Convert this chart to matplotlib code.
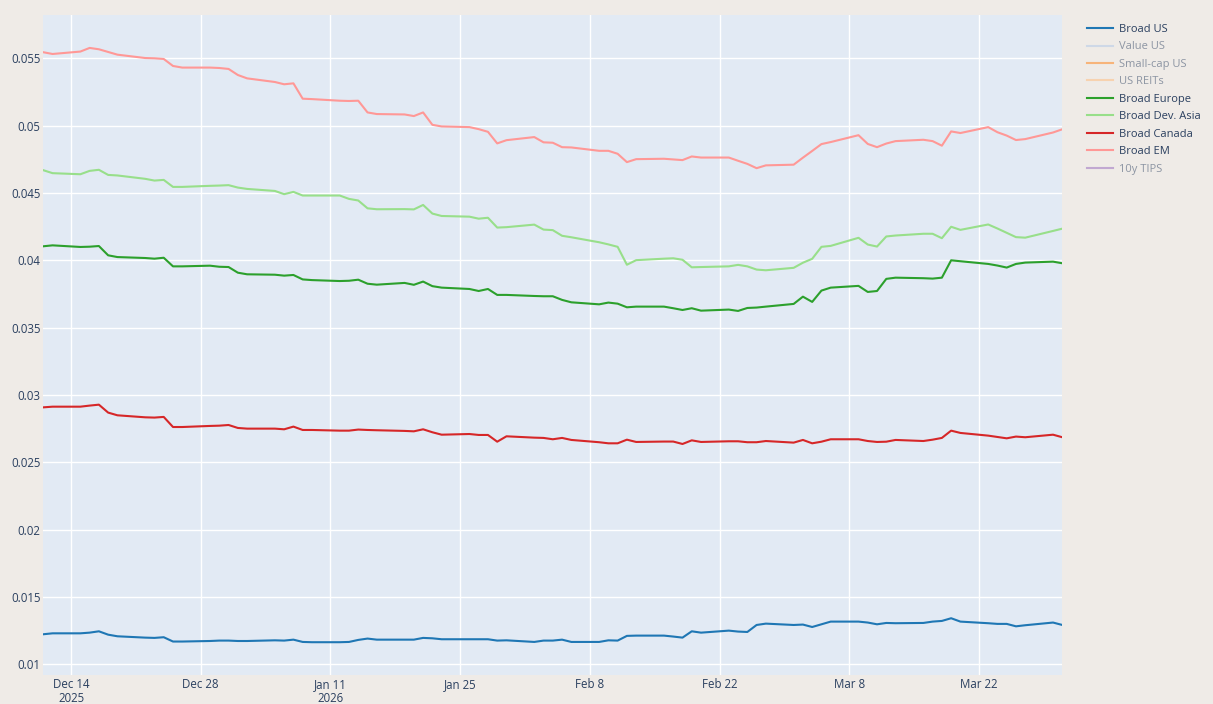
import numpy as np
import pandas as pd
import matplotlib
matplotlib.use("Agg")
import matplotlib.pyplot as plt
import matplotlib.dates as mdates
from matplotlib.lines import Line2D
from matplotlib.ticker import MultipleLocator, FuncFormatter

# business days, Dec 11 2025 .. Mar 31 2026 (79 points)
dates = pd.bdate_range("2025-12-11", "2026-03-31")

broad_us = [
    0.01223, 0.01230, 0.01230, 0.01235, 0.01245, 0.01220, 0.01208,
    0.01198, 0.01196, 0.01201, 0.01169, 0.01169, 0.01173, 0.01176,
    0.01176, 0.01173, 0.01173, 0.01178, 0.01176, 0.01183, 0.01166,
    0.01164, 0.01164, 0.01166, 0.01181, 0.01191, 0.01183, 0.01183,
    0.01183, 0.01196, 0.01193, 0.01186, 0.01186, 0.01186, 0.01186,
    0.01176, 0.01178, 0.01166, 0.01176, 0.01176, 0.01183, 0.01166,
    0.01166, 0.01178, 0.01176, 0.01211, 0.01213, 0.01213, 0.01206,
    0.01198, 0.01245, 0.01235, 0.01250, 0.01243, 0.01240, 0.01292,
    0.01302, 0.01292, 0.01295, 0.01277, 0.01297, 0.01317, 0.01317,
    0.01310, 0.01297, 0.01307, 0.01305, 0.01307, 0.01317, 0.01322,
    0.01342, 0.01317, 0.01305, 0.01300, 0.01300, 0.01282, 0.01290,
    0.01310, 0.01292,
]

broad_europe = [
    0.04104, 0.04111, 0.04099, 0.04101, 0.04106, 0.04037, 0.04024,
    0.04017, 0.04012, 0.04019, 0.03955, 0.03955, 0.03960, 0.03952,
    0.03950, 0.03908, 0.03896, 0.03893, 0.03886, 0.03891, 0.03858,
    0.03853, 0.03846, 0.03848, 0.03856, 0.03826, 0.03819, 0.03832,
    0.03818, 0.03842, 0.03808, 0.03797, 0.03787, 0.03772, 0.03787,
    0.03743, 0.03743, 0.03735, 0.03733, 0.03733, 0.03706, 0.03688,
    0.03673, 0.03686, 0.03678, 0.03651, 0.03656, 0.03656, 0.03644,
    0.03631, 0.03644, 0.03626, 0.03634, 0.03624, 0.03646, 0.03649,
    0.03656, 0.03676, 0.03730, 0.03691, 0.03775, 0.03797, 0.03810,
    0.03765, 0.03772, 0.03862, 0.03871, 0.03867, 0.03864, 0.03871,
    0.04000, 0.03993, 0.03973, 0.03961, 0.03946, 0.03973, 0.03983,
    0.03990, 0.03978,
]

broad_asia = [
    0.04669, 0.04647, 0.04639, 0.04664, 0.04672, 0.04634, 0.04630,
    0.04605, 0.04592, 0.04597, 0.04545, 0.04545, 0.04553, 0.04555,
    0.04558, 0.04540, 0.04530, 0.04515, 0.04491, 0.04508, 0.04481,
    0.04481, 0.04481, 0.04456, 0.04444, 0.04386, 0.04379, 0.04380,
    0.04378, 0.04411, 0.04347, 0.04329, 0.04324, 0.04309, 0.04316,
    0.04243, 0.04246, 0.04265, 0.04228, 0.04224, 0.04182, 0.04171,
    0.04134, 0.04118, 0.04100, 0.03967, 0.04001, 0.04012, 0.04015,
    0.04004, 0.03948, 0.03950, 0.03955, 0.03966, 0.03955, 0.03931,
    0.03926, 0.03944, 0.03982, 0.04011, 0.04100, 0.04107, 0.04167,
    0.04117, 0.04102, 0.04177, 0.04184, 0.04197, 0.04197, 0.04164,
    0.04249, 0.04226, 0.04266, 0.04236, 0.04204, 0.04172, 0.04168,
    0.04218, 0.04235,
]

broad_canada = [
    0.02908, 0.02913, 0.02913, 0.02921, 0.02928, 0.02869, 0.02849,
    0.02834, 0.02832, 0.02837, 0.02762, 0.02762, 0.02770, 0.02772,
    0.02777, 0.02755, 0.02750, 0.02750, 0.02745, 0.02765, 0.02740,
    0.02740, 0.02735, 0.02735, 0.02743, 0.02740, 0.02738, 0.02733,
    0.02730, 0.02745, 0.02723, 0.02705, 0.02710, 0.02703, 0.02703,
    0.02653, 0.02693, 0.02683, 0.02681, 0.02671, 0.02681, 0.02666,
    0.02649, 0.02641, 0.02641, 0.02668, 0.02651, 0.02654, 0.02654,
    0.02636, 0.02663, 0.02651, 0.02656, 0.02656, 0.02649, 0.02649,
    0.02658, 0.02646, 0.02666, 0.02641, 0.02653, 0.02671, 0.02671,
    0.02658, 0.02651, 0.02653, 0.02666, 0.02658, 0.02668, 0.02681,
    0.02735, 0.02718, 0.02698, 0.02688, 0.02678, 0.02691, 0.02686,
    0.02705, 0.02686,
]

broad_em = [
    0.05545, 0.05532, 0.05550, 0.05577, 0.05567, 0.05547, 0.05527,
    0.05502, 0.05500, 0.05495, 0.05443, 0.05431, 0.05431, 0.05428,
    0.05421, 0.05376, 0.05351, 0.05324, 0.05307, 0.05314, 0.05200,
    0.05197, 0.05185, 0.05183, 0.05185, 0.05098, 0.05086, 0.05083,
    0.05071, 0.05098, 0.05006, 0.04994, 0.04989, 0.04974, 0.04954,
    0.04868, 0.04892, 0.04915, 0.04876, 0.04873, 0.04840, 0.04838,
    0.04813, 0.04813, 0.04791, 0.04729, 0.04751, 0.04754, 0.04749,
    0.04744, 0.04771, 0.04763, 0.04763, 0.04739, 0.04716, 0.04684,
    0.04705, 0.04710, 0.04762, 0.04812, 0.04863, 0.04878, 0.04929,
    0.04864, 0.04840, 0.04867, 0.04885, 0.04895, 0.04885, 0.04851,
    0.04957, 0.04945, 0.04989, 0.04951, 0.04926, 0.04893, 0.04900,
    0.04949, 0.04973,
]

legend_names = ["Broad US", "Value US", "Small-cap US", "US REITs",
                "Broad Europe", "Broad Dev. Asia", "Broad Canada",
                "Broad EM", "10y TIPS"]
legend_colors = ["#1f77b4", "#aec7e8", "#ff7f0e", "#ffbb78", "#2ca02c",
                 "#98df8a", "#d62728", "#ff9896", "#9467bd"]
hidden = ["Value US", "Small-cap US", "US REITs", "10y TIPS"]

series = {
    "Broad US": broad_us,
    "Broad Europe": broad_europe,
    "Broad Dev. Asia": broad_asia,
    "Broad Canada": broad_canada,
    "Broad EM": broad_em,
}

tick_dates = pd.date_range("2025-12-14", "2026-03-22", freq="14D")

plt.rcParams["font.family"] = ["Open Sans", "DejaVu Sans"]
text_color = "#2a3f5f"

fig = plt.figure(figsize=(12.13, 7.04), dpi=100, facecolor="#efebe7")
ax = fig.add_axes([43.3 / 1213, 1 - 675 / 704, (1062.3 - 43.3) / 1213, 660 / 704])
ax.set_facecolor("#e2eaf4")

colors = dict(zip(legend_names, legend_colors))
for name, vals in series.items():
    ax.plot(dates, vals, color=colors[name], lw=1.5, zorder=3)

ax.set_xlim(dates[0], dates[-1])
ax.set_ylim(0.009205, 0.058215)

ax.yaxis.set_major_locator(MultipleLocator(0.005))
ax.yaxis.set_major_formatter(FuncFormatter(lambda v, p: f"{v:g}"))

labels = []
prev_year = None
for d in tick_dates:
    lab = f"{d.strftime('%b')} {d.day}"
    if d.year != prev_year:
        lab += f"\n{d.year}"
        prev_year = d.year
    labels.append(lab)
ax.set_xticks(mdates.date2num(tick_dates))
ax.set_xticklabels(labels, linespacing=1.1)

ax.grid(True, color="white", lw=1, zorder=0)
ax.set_axisbelow(True)
for s in ax.spines.values():
    s.set_visible(False)
ax.tick_params(axis="both", length=0, labelsize=8.3, colors=text_color)
ax.tick_params(axis="y", pad=2)
ax.tick_params(axis="x", pad=2.5)

handles = []
for name, c in zip(legend_names, legend_colors):
    a = 0.5 if name in hidden else 1.0
    handles.append(Line2D([0], [0], color=c, lw=1.5, alpha=a))
leg = fig.legend(handles, legend_names, loc="upper left",
                 bbox_to_anchor=(1087 / 1213, 1 - 24 / 704),
                 frameon=False, fontsize=8, handlelength=2.35,
                 handletextpad=0.5, labelspacing=0.58, borderpad=0,
                 borderaxespad=0)
for txt, name in zip(leg.get_texts(), legend_names):
    txt.set_color(text_color)
    if name in hidden:
        txt.set_alpha(0.5)

fig.savefig("out.png", dpi=100, facecolor=fig.get_facecolor())
